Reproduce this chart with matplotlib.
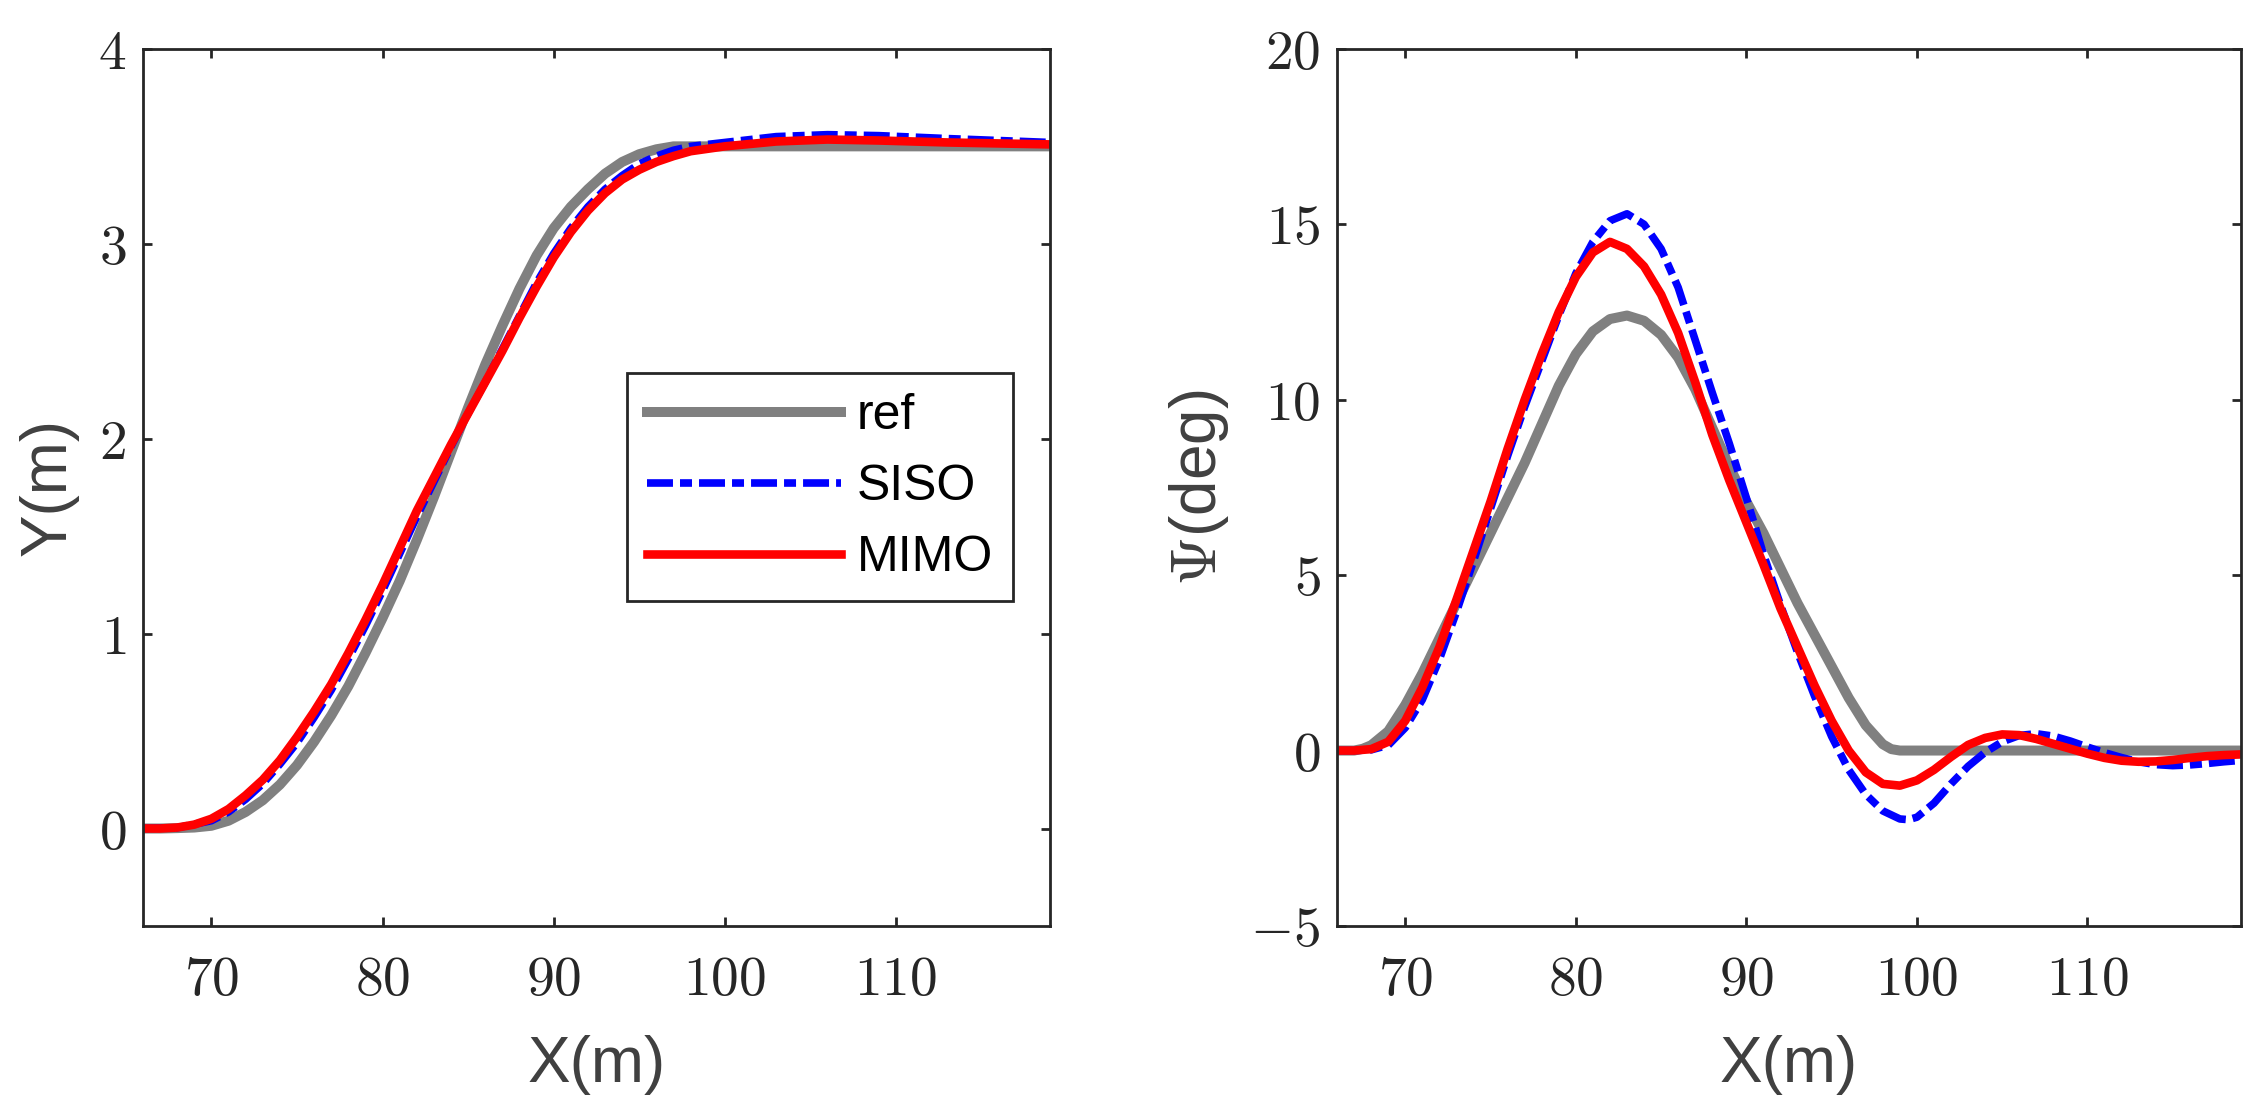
import matplotlib
matplotlib.use("Agg")
import matplotlib.pyplot as plt

plt.rcParams['mathtext.fontset'] = 'cm'
plt.rcParams['font.family'] = ['Liberation Sans', 'DejaVu Sans']

# ---- left panel: lateral position Y(m) ----
x_ref_y = [66, 67, 68, 69, 70, 71, 72, 73, 74, 75, 76, 77, 78, 79, 80, 81, 82, 83,
           84, 85, 86, 87, 88, 89, 90, 91, 92, 93, 94, 95, 96, 97, 98, 119]
y_ref = [0, 0, 0.002, 0.005, 0.014, 0.04, 0.085, 0.145, 0.225, 0.325, 0.445, 0.58,
         0.73, 0.9, 1.08, 1.27, 1.48, 1.7, 1.93, 2.16, 2.38, 2.58, 2.77, 2.94, 3.08,
         3.19, 3.28, 3.36, 3.42, 3.46, 3.485, 3.5, 3.5, 3.5]

x_siso_y = [66, 68, 70, 71, 72, 73, 74, 75, 76, 77, 78, 79, 80, 81, 82, 83, 84, 85,
            86, 87, 88, 89, 90, 91, 92, 93, 94, 95, 96, 97, 98, 100, 103, 106, 109,
            113, 119]
y_siso = [0, 0.004, 0.04, 0.085, 0.15, 0.23, 0.33, 0.44, 0.57, 0.71, 0.87, 1.04,
          1.22, 1.41, 1.6, 1.78, 1.96, 2.13, 2.29, 2.46, 2.63, 2.8, 2.95, 3.08, 3.19,
          3.28, 3.35, 3.41, 3.45, 3.48, 3.5, 3.52, 3.55, 3.56, 3.555, 3.54, 3.52]

x_mimo_y = [66, 67, 68, 69, 70, 71, 72, 73, 74, 75, 76, 77, 78, 79, 80, 81, 82, 83,
            84, 85, 86, 87, 88, 89, 90, 91, 92, 93, 94, 95, 96, 97, 98, 100, 103,
            106, 109, 113, 119]
y_mimo = [0, 0, 0.005, 0.02, 0.05, 0.1, 0.17, 0.25, 0.35, 0.47, 0.6, 0.74, 0.9,
          1.07, 1.25, 1.44, 1.63, 1.8, 1.97, 2.13, 2.29, 2.45, 2.62, 2.78, 2.93,
          3.06, 3.17, 3.26, 3.33, 3.38, 3.42, 3.45, 3.475, 3.5, 3.525, 3.535, 3.53,
          3.52, 3.51]

# ---- right panel: heading angle Psi (deg) ----
x_ref_psi = [66, 67, 67.5, 68, 69, 70, 71, 72, 73, 74, 75, 76, 77, 78, 79, 80, 81,
             82, 83, 84, 85, 86, 87, 88, 89, 90, 91, 92, 93, 94, 95, 96, 97, 98,
             98.5, 99, 119]
psi_ref = [0, 0, 0.05, 0.15, 0.55, 1.3, 2.2, 3.2, 4.2, 5.2, 6.2, 7.2, 8.2, 9.3,
           10.4, 11.3, 11.95, 12.3, 12.4, 12.25, 11.85, 11.2, 10.3, 9.2, 8.1, 7.1,
           6.2, 5.2, 4.2, 3.3, 2.4, 1.5, 0.72, 0.18, 0.04, 0, 0]

x_siso_psi = [66, 67, 68, 69, 70, 71, 72, 73, 74, 75, 76, 77, 78, 79, 80, 81, 82,
              83, 84, 85, 86, 87, 88, 89, 90, 91, 92, 93, 94, 95, 96, 97, 98, 99,
              99.5, 100, 101, 102, 103, 104, 105, 106, 107, 108, 109, 110, 111,
              112, 113, 114, 115, 116, 117, 118, 119]
psi_siso = [0, 0, 0.02, 0.15, 0.65, 1.45, 2.6, 3.95, 5.4, 6.9, 8.4, 9.8, 11.1,
            12.4, 13.6, 14.5, 15.1, 15.3, 15.0, 14.3, 13.2, 11.7, 10.2, 8.75, 7.2,
            5.6, 4.15, 2.8, 1.55, 0.4, -0.55, -1.25, -1.72, -1.95, -1.97, -1.9,
            -1.5, -0.95, -0.45, -0.05, 0.25, 0.43, 0.48, 0.41, 0.27, 0.1, -0.06,
            -0.2, -0.32, -0.4, -0.43, -0.41, -0.37, -0.32, -0.28]

x_mimo_psi = [66, 67, 68, 69, 70, 71, 72, 73, 74, 75, 76, 77, 78, 79, 80, 81, 82,
              83, 84, 85, 86, 87, 88, 89, 90, 91, 92, 93, 94, 95, 96, 97, 98, 99,
              100, 101, 102, 103, 104, 105, 106, 107, 108, 109, 110, 111, 112,
              113, 114, 115, 116, 117, 118, 119]
psi_mimo = [0, 0, 0.04, 0.25, 0.85, 1.8, 2.95, 4.3, 5.7, 7.1, 8.6, 10.0, 11.3,
            12.5, 13.5, 14.2, 14.5, 14.3, 13.8, 13.0, 11.9, 10.5, 9.0, 7.7, 6.5,
            5.3, 4.05, 2.95, 1.85, 0.85, 0.0, -0.62, -0.95, -1.0, -0.85, -0.55,
            -0.18, 0.16, 0.36, 0.46, 0.44, 0.33, 0.19, 0.05, -0.09, -0.21, -0.29,
            -0.32, -0.31, -0.27, -0.21, -0.16, -0.13, -0.11]

x_ticks = [70, 80, 90, 100, 110]
y_ticks_left = [0, 1, 2, 3, 4]
y_ticks_right = [-5, 0, 5, 10, 15, 20]

dark = '#262626'
label_col = '#404040'
siso_dash = (0, (3.4, 0.92, 1.57, 0.92))

fig = plt.figure(figsize=(22.62, 11.14), dpi=100)
ax1 = fig.add_axes([0.0632, 0.1688, 0.401, 0.7873])
ax2 = fig.add_axes([0.5911, 0.1688, 0.3996, 0.7873])

ax1.plot(x_ref_y, y_ref, color='#808080', lw=7.2, label='ref')
ax1.plot(x_siso_y, y_siso, color='#0000ff', lw=5.5, ls=siso_dash, label='SISO')
ax1.plot(x_mimo_y, y_mimo, color='#ff0000', lw=6.2, label='MIMO')

ax2.plot(x_ref_psi, psi_ref, color='#808080', lw=7.2)
ax2.plot(x_siso_psi, psi_siso, color='#0000ff', lw=5.5, ls=siso_dash)
ax2.plot(x_mimo_psi, psi_mimo, color='#ff0000', lw=6.2)

for ax, yt in [(ax1, y_ticks_left), (ax2, y_ticks_right)]:
    ax.set_xlim(66, 119)
    ax.set_xticks(x_ticks, ['$%d$' % t for t in x_ticks])
    ax.set_yticks(yt, ['$%d$' % t for t in yt])
    ax.tick_params(direction='in', length=6.7, width=2, top=True, right=True,
                   colors=dark, labelsize=40)
    ax.tick_params(axis='x', pad=21)
    ax.tick_params(axis='y', pad=12)
    for s in ax.spines.values():
        s.set_linewidth(2)
        s.set_color(dark)
    ax.set_xlabel('X(m)', fontsize=46, color=label_col, labelpad=20)

ax1.set_ylim(-0.5, 4)
ax2.set_ylim(-5, 20)
ax1.set_ylabel('Y(m)', fontsize=46, color=label_col, labelpad=14)
ax2.set_ylabel(r'$\Psi$(deg)', fontsize=46, color=label_col, labelpad=14)

leg = ax1.legend(loc='upper left', bbox_to_anchor=(627 / 2262, 1 - 373 / 1114),
                 bbox_transform=fig.transFigure, borderaxespad=0, fontsize=36,
                 handlelength=3.88, handletextpad=0.32, borderpad=0.4,
                 labelspacing=0.5, fancybox=False, framealpha=1,
                 edgecolor=dark)
leg.get_frame().set_linewidth(2)

fig.savefig('out.png', dpi=100)
